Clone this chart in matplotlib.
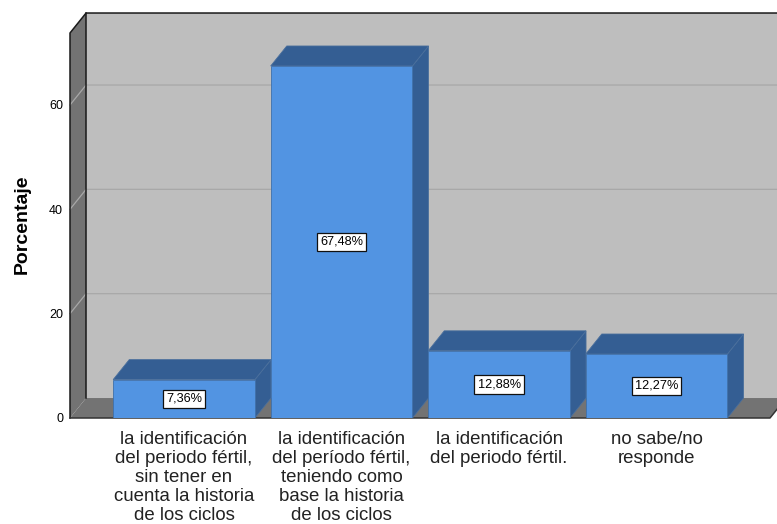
import matplotlib
matplotlib.use('Agg')
import matplotlib.pyplot as plt
from matplotlib.patches import Polygon

plt.rcParams['font.family'] = ['Liberation Sans', 'DejaVu Sans']

categories = [
    'la identificación\ndel periodo fértil,\nsin tener en\ncuenta la historia\nde los ciclos',
    'la identificación\ndel período fértil,\nteniendo como\nbase la historia\nde los ciclos',
    'la identificación\ndel periodo fértil.',
    'no sabe/no\nresponde',
]
values = [7.36, 67.48, 12.88, 12.27]
labels = ['7,36%', '67,48%', '12,88%', '12,27%']
yticks = [0, 20, 40, 60]

# 3d look: depth of the box in data units
DX = 0.102
DY = 3.83
WIDTH = 0.9
XMIN, XMAX = -0.724, 3.72
YMAX = 73.8

WALL = '#bebebe'
SIDE = '#737373'
BAR = '#5294e2'
BAR_DARK = '#345e93'
GRID = '#a8a8a8'

W, H = 777, 524
fig = plt.figure(figsize=(W / 100, H / 100), dpi=100)
ax = fig.add_axes([70 / W, 1 - 418 / H, 700 / W, 385 / H])
ax.set_xlim(XMIN, XMAX)
ax.set_ylim(0, YMAX)
for s in ax.spines.values():
    s.set_visible(False)


def poly(pts, color, edge='none', lw=0, z=1):
    ax.add_patch(Polygon(pts, closed=True, facecolor=color, edgecolor=edge,
                         linewidth=lw, zorder=z, clip_on=False))


# back wall, left wall, floor
poly([(XMIN + DX, DY), (XMAX + DX, DY), (XMAX + DX, YMAX + DY), (XMIN + DX, YMAX + DY)], WALL)
poly([(XMIN, 0), (XMIN + DX, DY), (XMIN + DX, YMAX + DY), (XMIN, YMAX)], SIDE)
poly([(XMIN, 0), (XMAX, 0), (XMAX + DX, DY), (XMIN + DX, DY)], SIDE)

for t in yticks[1:]:
    ax.plot([XMIN, XMIN + DX, XMAX + DX], [t, t + DY, t + DY], color=GRID, lw=0.9, zorder=2, clip_on=False)

# outline of the box, the back edge of the floor has none
ax.plot([XMIN, XMIN, XMIN + DX, XMAX + DX], [0, YMAX, YMAX + DY, YMAX + DY], color='#1a1a1a', lw=1.1, zorder=3, clip_on=False)
ax.plot([XMIN + DX, XMIN + DX], [YMAX + DY, DY], color='#1a1a1a', lw=1.1, zorder=3, clip_on=False)
ax.plot([XMIN, XMAX, XMAX + DX], [0, 0, DY], color='#333333', lw=1.1, zorder=3, clip_on=False)

for i, v in enumerate(values):
    x0, x1 = i - WIDTH / 2, i + WIDTH / 2
    edge = '#4a6f9c'
    poly([(x1, 0), (x1 + DX, DY), (x1 + DX, v + DY), (x1, v)], BAR_DARK, edge, 0.6, 4)
    poly([(x0, v), (x1, v), (x1 + DX, v + DY), (x0 + DX, v + DY)], BAR_DARK, edge, 0.6, 4)
    ax.bar(i, v, width=WIDTH, color=BAR, edgecolor='#3f70aa', linewidth=0.6, zorder=5)
    ax.text(i, v / 2, labels[i], ha='center', va='center', fontsize=9.2, zorder=6,
            bbox=dict(boxstyle='square,pad=0.25', facecolor='white', edgecolor='#111111', linewidth=0.9))

ax.set_yticks(yticks)
ax.set_xticks(range(len(categories)))
ax.set_xticklabels(categories, fontsize=13.4, linespacing=1.17, color='#222222')
ax.tick_params(axis='both', length=0)
ax.tick_params(axis='x', pad=9)
ax.tick_params(axis='y', labelsize=9, pad=5)

fig.text(22 / W, 1 - 224 / H, 'Porcentaje', rotation=90, ha='center', va='center',
         fontsize=14, fontweight='bold')

fig.savefig('out.png', dpi=100)
